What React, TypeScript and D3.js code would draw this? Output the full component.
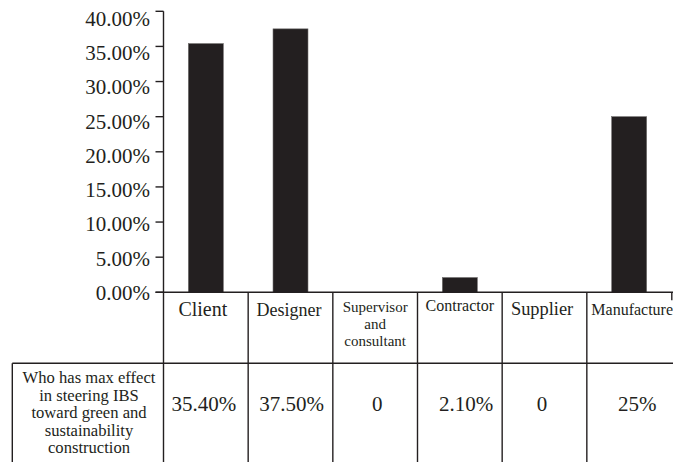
import React from "react";
import * as d3 from "d3";

// Categories, percentages and the printed table values
const categories = ["Client", "Designer", "Supervisor and consultant", "Contractor", "Supplier", "Manufacture"];
const categoryLines = [["Client"], ["Designer"], ["Supervisor", "and", "consultant"], ["Contractor"], ["Supplier"], ["Manufacture"]];
const values = [35.4, 37.5, 0, 2.1, 0, 25];
const valueLabels = ["35.40%", "37.50%", "0", "2.10%", "0", "25%"];
const yTicks = [0, 5, 10, 15, 20, 25, 30, 35, 40];
const yTickLabels = ["0.00%", "5.00%", "10.00%", "15.00%", "20.00%", "25.00%", "30.00%", "35.00%", "40.00%"];
const rowLabel = ["Who has max effect", "in steering IBS", "toward green and", "sustainability", "construction"];

const W = 673;
const H = 462;
const INK = "#231f20";
const FONT = "Liberation Serif, Times New Roman, DejaVu Serif, serif";
const textStyle = { fontFamily: FONT };

// Per-category header typography (size, first baseline, line step, x nudge)
const headerStyle: Record<string, { size: number; base: number; step: number; dx: number }> = {
  Client: { size: 20, base: 316, step: 0, dx: -3 },
  Designer: { size: 18, base: 315.5, step: 0, dx: -1.5 },
  "Supervisor and consultant": { size: 15, base: 311.5, step: 17.2, dx: 0 },
  Contractor: { size: 16, base: 311, step: 0, dx: 0 },
  Supplier: { size: 18.4, base: 314.5, step: 0, dx: -2.4 },
  Manufacture: { size: 16, base: 315, step: 0, dx: 3 },
};
const valueDx = [-2, 1.2, 2, 6.3, -2.6, 8];

export default function App() {
  const x = d3.scaleBand<string>().domain(categories).range([163.5, 671.5]).paddingInner(0).paddingOuter(0);
  const y = d3.scaleLinear().domain([0, 40]).range([292.3, 11.3]);
  // tick labels sit on a slightly tighter spacing than the tick marks
  const yLabel = d3.scaleLinear().domain([0, 40]).range([292.8, 18.8]);
  const bw = x.bandwidth();
  const barW = bw * 0.413;
  const axisX = 163.5;
  const baseY = y(0);
  const rowTop = 363.3;

  return (
    <svg
      width={W}
      height={H}
      viewBox={`0 0 ${W} ${H}`}
      style={{ position: "absolute", left: 0, top: 0, background: "#fff", fontFamily: FONT }}
    >
      <rect x={0} y={0} width={W} height={H} fill="#fff" />

      {/* bars */}
      {categories.map((c, i) => {
        const v = values[i];
        if (v <= 0) return null;
        const cx = (x(c) as number) + bw / 2;
        return (
          <rect
            key={c}
            x={cx - barW / 2}
            y={y(v)}
            width={barW}
            height={baseY - y(v)}
            fill={INK}
            stroke="#6d6a69"
            strokeWidth={0.6}
          />
        );
      })}

      {/* y axis */}
      <line x1={axisX} x2={axisX} y1={y(40)} y2={H} stroke={INK} strokeWidth={1.4} />
      {yTicks.map((t, i) => (
        <g key={t}>
          <line x1={axisX - 8} x2={axisX} y1={y(t)} y2={y(t)} stroke={INK} strokeWidth={1.4} />
          <text
            x={150}
            y={yLabel(t)}
            textAnchor="end"
            dominantBaseline="central"
            fontSize={21}
            fill={INK}
            style={textStyle}
          >
            {yTickLabels[i]}
          </text>
        </g>
      ))}

      {/* x axis and table grid */}
      <line x1={axisX - 8} x2={W} y1={baseY} y2={baseY} stroke={INK} strokeWidth={1.4} />
      <line x1={12.3} x2={W} y1={rowTop} y2={rowTop} stroke={INK} strokeWidth={1.4} />
      <line x1={12.3} x2={12.3} y1={rowTop} y2={H} stroke={INK} strokeWidth={1.4} />
      {categories.map((c, i) => {
        if (i === 0) return null;
        const bx = x(c) as number;
        return <line key={c} x1={bx} x2={bx} y1={baseY} y2={H} stroke={INK} strokeWidth={1.4} />;
      })}
      <line x1={671.8} x2={671.8} y1={baseY} y2={baseY + 8} stroke={INK} strokeWidth={1.4} />

      {/* category headers */}
      {categories.map((c, i) => {
        const st = headerStyle[c];
        const cx = (x(c) as number) + bw / 2 + st.dx;
        return (
          <text key={c} textAnchor="middle" fontSize={st.size} fill={INK} style={textStyle}>
            {categoryLines[i].map((ln, j) => (
              <tspan key={j} x={cx} y={st.base + j * st.step} style={textStyle}>
                {ln}
              </tspan>
            ))}
          </text>
        );
      })}

      {/* value row */}
      {categories.map((c, i) => (
        <text
          key={c}
          x={(x(c) as number) + bw / 2 + valueDx[i]}
          y={411}
          textAnchor="middle"
          fontSize={21}
          fill={INK}
          style={textStyle}
        >
          {valueLabels[i]}
        </text>
      ))}

      {/* row header */}
      <text textAnchor="middle" fontSize={16.6} fill={INK} style={textStyle}>
        {rowLabel.map((ln, j) => (
          <tspan key={j} x={89} y={383 + j * 17.6} style={textStyle}>
            {ln}
          </tspan>
        ))}
      </text>
    </svg>
  );
}
